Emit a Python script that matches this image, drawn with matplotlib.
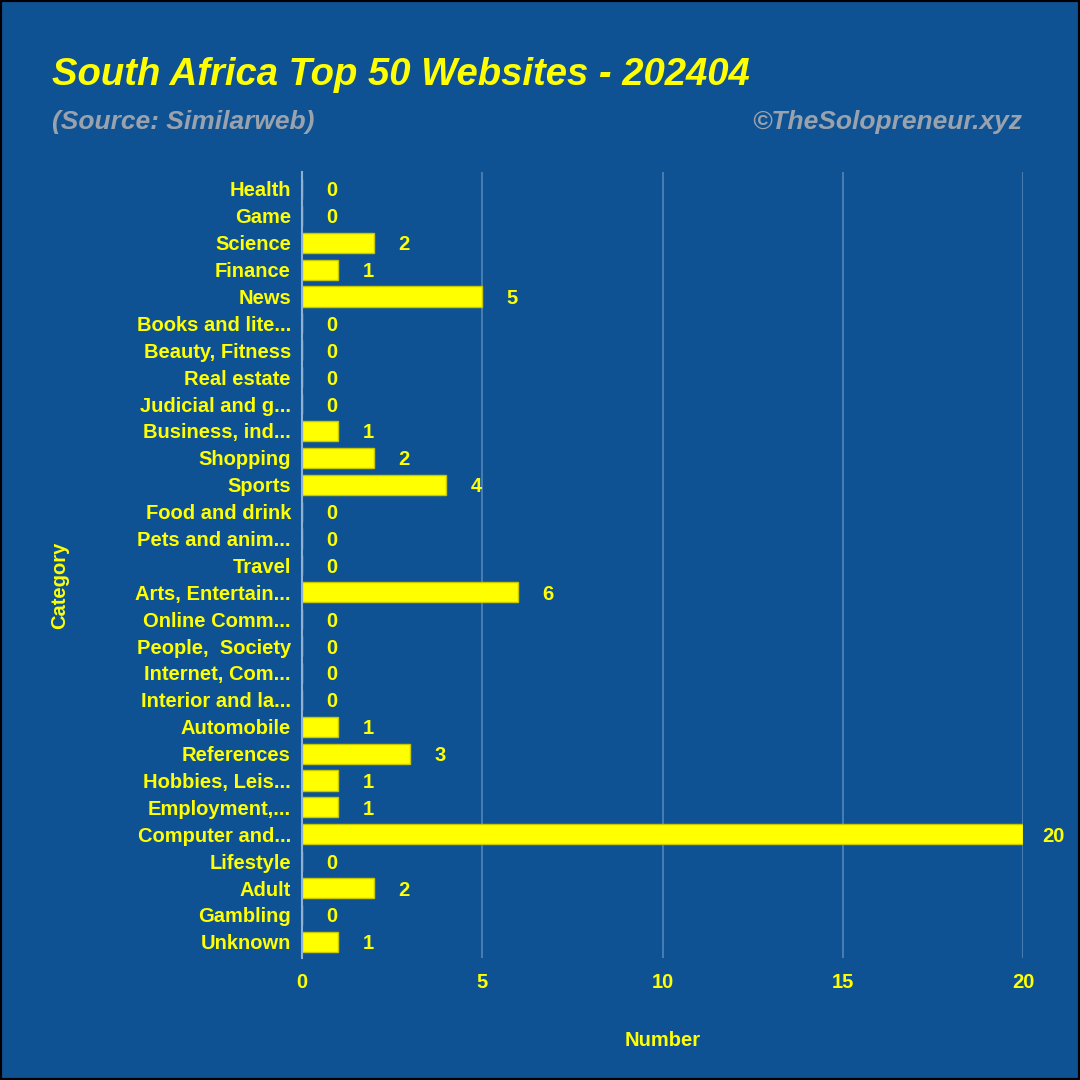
import matplotlib
matplotlib.use("Agg")
import matplotlib.pyplot as plt
from matplotlib.patches import Rectangle

categories = ["Health", "Game", "Science", "Finance", "News", "Books and lite...",
              "Beauty, Fitness", "Real estate", "Judicial and g...", "Business, ind...",
              "Shopping", "Sports", "Food and drink", "Pets and anim...", "Travel",
              "Arts, Entertain...", "Online Comm...", "People,  Society", "Internet, Com...",
              "Interior and la...", "Automobile", "References", "Hobbies, Leis...",
              "Employment,...", "Computer and...", "Lifestyle", "Adult", "Gambling", "Unknown"]
values = [0, 0, 2, 1, 5, 0, 0, 0, 0, 1, 2, 4, 0, 0, 0, 6, 0, 0, 0, 0, 1, 3, 1, 1, 20, 0, 2, 0, 1]
xticks = [0, 5, 10, 15, 20]

BG = "#0e5294"
YEL = "#ffff00"
FONT = ["Liberation Sans", "DejaVu Sans"]
plt.rcParams["font.family"] = FONT

fig = plt.figure(figsize=(10.8, 10.8), dpi=100, facecolor=BG)
ax = fig.add_axes([302/1080, 1-958/1080, (1023-302)/1080, (958-172)/1080])
ax.set_facecolor(BG)

ypos = list(range(len(categories)))
ax.barh(ypos, values, height=0.75, color=YEL, edgecolor="#c8c800", linewidth=1.0, zorder=3)
for y, v in zip(ypos, values):
    ax.annotate(str(v), (v, y), xytext=(21.6, 0), textcoords="offset points",
                ha="center", va="center_baseline", color=YEL, fontsize=14.5, fontweight="bold")

ax.set_ylim(28.6, -0.63)
ax.set_xlim(0, 20)
ax.set_xticks(xticks)
ax.set_yticks(ypos)
ax.set_yticklabels(categories, va="center_baseline")
ax.tick_params(axis="both", length=0, colors=YEL, labelsize=14.5)
ax.tick_params(axis="x", pad=11)
ax.tick_params(axis="y", pad=8)
for lab in ax.get_xticklabels() + ax.get_yticklabels():
    lab.set_fontweight("bold")
ax.grid(axis="x", color="#6f9bc8", linewidth=1.2, alpha=0.7, zorder=0)
ax.grid(axis="y", visible=False)
for s in ["top", "right", "bottom"]:
    ax.spines[s].set_visible(False)
ax.spines["left"].set_color("#8fb0d0")
ax.spines["left"].set_linewidth(1.5)
ax.spines["left"].set_zorder(4)

ax.set_xlabel("Number", color=YEL, fontsize=14.5, fontweight="bold")
ax.xaxis.set_label_coords(0.5, -(1040-958)/786, transform=ax.transAxes)
ax.xaxis.label.set_va("center")
fig.text(60/1080, 1-585/1080, "Category", color=YEL, fontsize=14.5, fontweight="bold",
         rotation=90, ha="center", va="center")

fig.text(52/1080, 1-75/1080, "South Africa Top 50 Websites - 202404", color=YEL,
         fontsize=27.5, fontweight="bold", fontstyle="italic", ha="left", va="center")
fig.text(52/1080, 1-122/1080, "(Source: Similarweb)", color="#9aa3ad",
         fontsize=19, fontweight="bold", fontstyle="italic", ha="left", va="center")
fig.text(1022/1080, 1-122/1080, "\u00a9TheSolopreneur.xyz", color="#9aa3ad",
         fontsize=19, fontweight="bold", fontstyle="italic", ha="right", va="center")

fig.patches.append(Rectangle((0, 0), 1, 1, transform=fig.transFigure, fill=False,
                             edgecolor="black", linewidth=3, zorder=10))

fig.savefig("out.png", dpi=100, facecolor=BG)
